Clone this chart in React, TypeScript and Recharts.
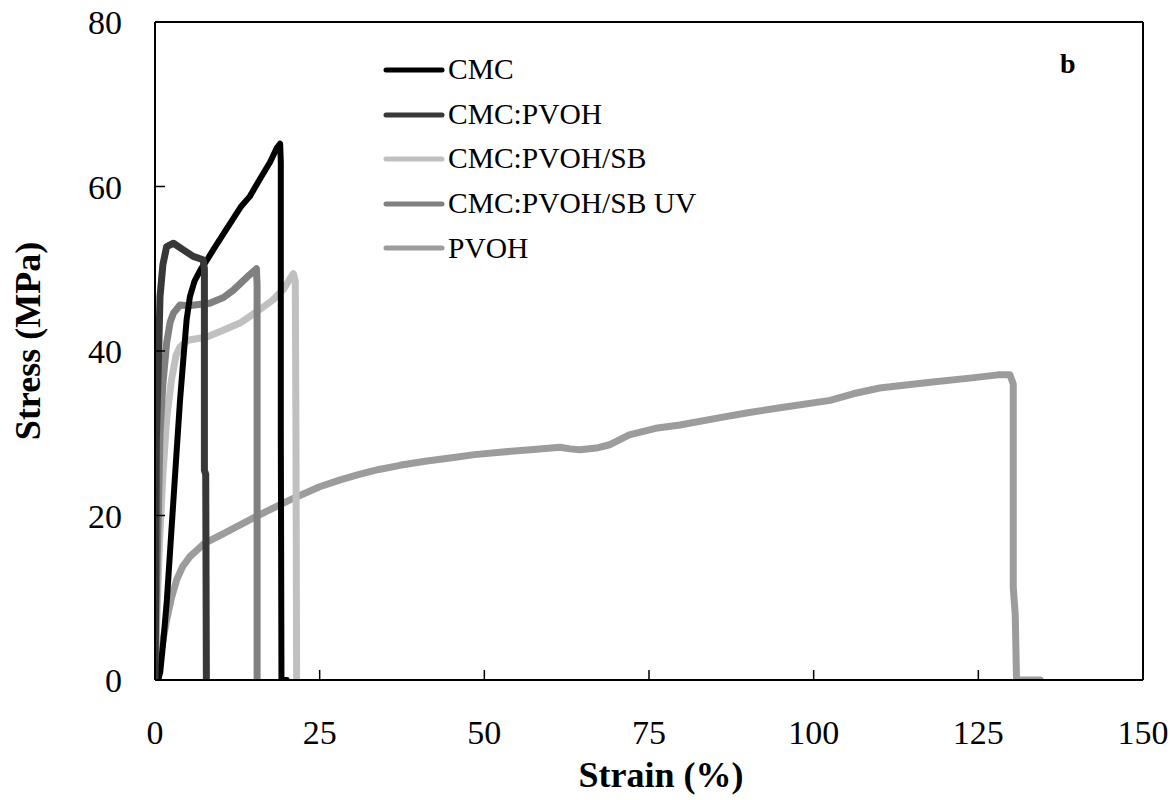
import React from 'react';
import { LineChart, Line, XAxis, YAxis, ReferenceLine, ReferenceDot, Legend, Label } from 'recharts';

const FONT = "'Liberation Serif', 'Times New Roman', serif";

const xTicks = [0, 25, 50, 75, 100, 125, 150];
const yTicks = [0, 20, 40, 60, 80];

const cmcStrain = [0, 0.5, 0.8, 1.3, 1.8, 2.3, 2.8, 3.3, 3.8, 4.3, 4.8, 5.3, 6, 7, 7.85, 9, 11, 13, 14.4, 16, 17.5, 18.5, 19.0, 19.1, 19.1, 19.2, 20];
const cmcStress = [0, 0, 1, 5, 9.7, 15.8, 21.9, 28, 34, 39, 43.8, 46.6, 48.5, 50, 51, 52.5, 55, 57.5, 58.8, 61, 63, 64.7, 65.2, 63, 30, 0, 0];

const cmcPvohStrain = [0, 0.1, 0.15, 0.2, 0.5, 0.76, 1.2, 1.77, 2.8, 4.3, 5.8, 7.3, 7.5, 7.5, 7.7, 7.8];
const cmcPvohStress = [0, 10, 20, 29, 38, 46.6, 50.5, 52.7, 53.1, 52.3, 51.5, 51.1, 50, 25.5, 25, 0];

const sbStrain = [0, 0.3, 0.7, 1.2, 1.8, 2.5, 3.2, 3.8, 5, 7.85, 10, 12.9, 15.5, 17.9, 19.5, 21.0, 21.3, 21.4, 21.5];
const sbStress = [0, 8, 17, 25, 32, 36.5, 39.5, 40.5, 41.3, 41.7, 42.4, 43.4, 44.8, 46.2, 47.5, 49.4, 48.5, 30, 0];

const uvStrain = [0, 0.2, 0.5, 0.76, 1.2, 1.77, 2.3, 2.8, 3.8, 5, 8.3, 10.4, 11.9, 14, 15.4, 15.5, 15.5];
const uvStress = [0, 10, 20, 30, 36, 41, 43.5, 44.6, 45.6, 45.5, 45.8, 46.5, 47.4, 49, 50, 48, 0];

const pvohStrain = [0, 0.3, 0.76, 1.2, 1.77, 2.5, 3.3, 4.2, 5.3, 7.5, 10.4, 15.4, 20.5, 25, 28, 31, 34, 37.2, 41, 44.8, 48.5, 52.4, 57, 61.5, 63, 64.5, 67, 69, 72, 76, 79.7, 85.8, 90, 94.9, 102.5, 106, 110, 117.7, 123.7, 128, 129.8, 130.3, 130.3, 130.6, 130.8, 134.4];
const pvohStress = [0, 0.5, 2.4, 4.8, 7.3, 10, 12.2, 13.8, 15, 16.6, 17.8, 19.9, 21.9, 23.5, 24.3, 25.0, 25.6, 26.1, 26.6, 27, 27.4, 27.7, 28, 28.3, 28.1, 28, 28.2, 28.6, 29.8, 30.6, 31, 31.9, 32.5, 33.1, 34, 34.8, 35.5, 36.2, 36.7, 37.1, 37.1, 36, 11.3, 8, 0, 0];

const zip = (xs: number[], ys: number[]) => xs.map((x, i) => ({ x, y: ys[i] }));

const series = [
  { name: 'CMC', color: '#000000', width: 6, data: zip(cmcStrain, cmcStress) },
  { name: 'CMC:PVOH', color: '#383838', width: 7, data: zip(cmcPvohStrain, cmcPvohStress) },
  { name: 'CMC:PVOH/SB', color: '#c0c0c0', width: 7, data: zip(sbStrain, sbStress) },
  { name: 'CMC:PVOH/SB UV', color: '#808080', width: 7, data: zip(uvStrain, uvStress) },
  { name: 'PVOH', color: '#9c9c9c', width: 7, data: zip(pvohStrain, pvohStress) },
];

const drawOrder = [4, 2, 3, 0, 1];

const LegendContent = () => (
  <div style={{ fontFamily: FONT }}>
    {series.map((s) => (
      <div key={s.name} style={{ display: 'flex', alignItems: 'center', height: 44.6 }}>
        <svg width={62} height={10} style={{ display: 'block' }}>
          <line x1={3} y1={5} x2={59} y2={5} stroke={s.color} strokeWidth={5} strokeLinecap="round" />
        </svg>
        <span style={{ fontSize: 29.5, color: '#000', marginLeft: 3, lineHeight: 1, whiteSpace: 'nowrap' }}>{s.name}</span>
      </div>
    ))}
  </div>
);

const YTitle = (props: any) => {
  const vb = props.viewBox || {};
  const cx = (vb.x ?? 0) + 28;
  const cy = (vb.y ?? 0) + (vb.height ?? 0) / 2 - 10;
  return (
    <text x={cx} y={cy} transform={`rotate(-90, ${cx}, ${cy})`} textAnchor="middle" dominantBaseline="central"
      style={{ fontFamily: FONT, fontSize: 36, fontWeight: 'bold', fill: '#000' }}>
      Stress (MPa)
    </text>
  );
};

const XTitle = (props: any) => {
  const vb = props.viewBox || {};
  const cx = (vb.x ?? 0) + (vb.width ?? 0) / 2 + 12;
  const cy = (vb.y ?? 0) + 107;
  return (
    <text x={cx} y={cy} textAnchor="middle"
      style={{ fontFamily: FONT, fontSize: 36, fontWeight: 'bold', fill: '#000' }}>
      Strain (%)
    </text>
  );
};

export default function App() {
  return (
    <div style={{ position: 'absolute', left: 0, top: 0, width: 1176, height: 800, background: '#fff' }}>
      <LineChart width={1176} height={800} margin={{ top: 22, right: 33, bottom: 0, left: 0 }}>
        <XAxis
          type="number"
          dataKey="x"
          domain={[0, 150]}
          ticks={xTicks}
          allowDataOverflow
          height={120}
          tickSize={-10}
          tickMargin={50}
          axisLine={{ stroke: '#000', strokeWidth: 2 }}
          tickLine={{ stroke: '#000', strokeWidth: 1.5 }}
          tick={{ fontSize: 34, fill: '#000', fontFamily: FONT }}
          interval={0}
        >
          <Label content={<XTitle />} />
        </XAxis>
        <YAxis
          type="number"
          dataKey="y"
          domain={[0, 80]}
          ticks={yTicks}
          allowDataOverflow
          width={155}
          tickSize={-10}
          tickMargin={43}
          axisLine={{ stroke: '#000', strokeWidth: 2 }}
          tickLine={{ stroke: '#000', strokeWidth: 1.5 }}
          tick={{ fontSize: 34, fill: '#000', fontFamily: FONT }}
          interval={0}
        >
          <Label content={<YTitle />} />
        </YAxis>
        <ReferenceLine y={80} stroke="#000" strokeWidth={2} ifOverflow="visible" />
        <ReferenceLine x={150} stroke="#000" strokeWidth={2} ifOverflow="visible" />
        {drawOrder.map((i) => {
          const s = series[i];
          return (
            <Line
              key={s.name}
              data={s.data}
              dataKey="y"
              name={s.name}
              type="linear"
              stroke={s.color}
              strokeWidth={s.width}
              strokeLinejoin="round"
              strokeLinecap="round"
              dot={false}
              activeDot={false}
              isAnimationActive={false}
            />
          );
        })}
        <ReferenceDot x={138.6} y={75} r={0} fill="none" stroke="none" ifOverflow="visible"
          label={{ value: 'b', position: 'center', style: { fontFamily: FONT, fontSize: 28, fontWeight: 'bold', fill: '#000' } }} />
        <Legend
          layout="vertical"
          align="center"
          verticalAlign="middle"
          content={<LegendContent />}
          wrapperStyle={{ position: 'absolute', top: 47.7, left: 383, width: 'auto', height: 'auto' }}
        />
      </LineChart>
    </div>
  );
}
